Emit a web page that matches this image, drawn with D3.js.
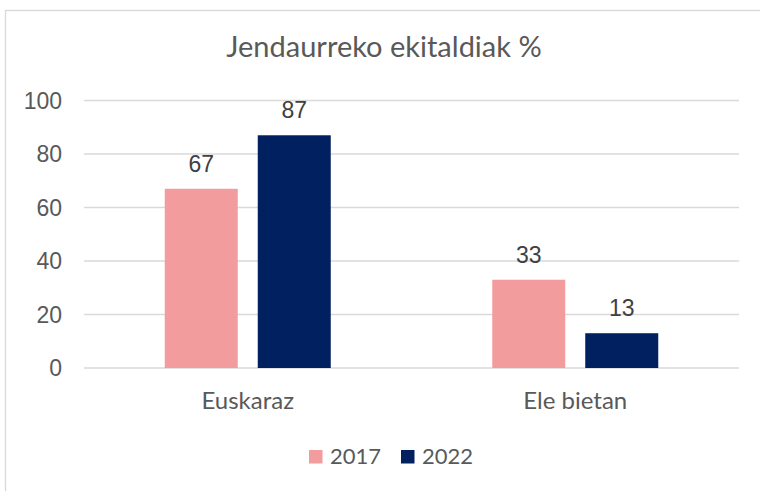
<!DOCTYPE html>
<html>
<head>
<meta charset="utf-8">
<script src="https://cdn.jsdelivr.net/npm/d3@7"></script>
<style>
  html, body { margin: 0; padding: 0; background: #fff; }
  svg { display: block; }
</style>
</head>
<body>
<div id="chart"></div>
<script>
// Jendaurreko ekitaldiak % - grouped bars
const categories = ["Euskaraz", "Ele bietan"];
const years = ["2017", "2022"];
const values2017 = [67, 33];
const values2022 = [87, 13];
const yTicks = [0, 20, 40, 60, 80, 100];

const W = 760, H = 491;
const colors = { "2017": "#F29C9E", "2022": "#002060" };
const humanist = "Lato, 'Open Sans', sans-serif";
const arial = "'Liberation Sans', Arial, sans-serif";

const svg = d3.select('#chart').append('svg').attr('width', W).attr('height', H);

// chart frame
svg.append('rect').attr('x', 5.5).attr('y', 10.5).attr('width', W + 10).attr('height', H + 10)
    .attr('fill', '#fff').attr('stroke', '#D9D9D9').attr('stroke-width', 1.3);

const plot = { left: 84, right: 739, top: 100.5, bottom: 368 };

const x0 = d3.scaleBand().domain(categories).range([plot.left, plot.right]).paddingInner(0).paddingOuter(0);
const y = d3.scaleLinear().domain([0, 100]).range([plot.bottom, plot.top]);

// gridlines
svg.append('g').selectAll('line').data(yTicks).enter().append('line')
    .attr('x1', plot.left).attr('x2', plot.right)
    .attr('y1', d => y(d)).attr('y2', d => y(d))
    .attr('stroke', '#D9D9D9').attr('stroke-width', 1.3);

// y tick labels
svg.append('g').selectAll('text').data(yTicks).enter().append('text')
    .attr('x', 62).attr('y', d => y(d)).attr('dy', '0.36em')
    .attr('text-anchor', 'end').attr('font-family', arial).attr('font-size', '23px')
    .attr('fill', '#595959').text(d => d);

const barW = 73, gap = 20;
const rows = [];
categories.forEach((c, i) => {
    rows.push({ cat: c, year: "2017", v: values2017[i], off: -(gap / 2 + barW) });
    rows.push({ cat: c, year: "2022", v: values2022[i], off: gap / 2 });
});
const cx = c => x0(c) + x0.bandwidth() / 2;

svg.append('g').selectAll('rect').data(rows).enter().append('rect')
    .attr('x', d => cx(d.cat) + d.off).attr('width', barW)
    .attr('y', d => y(d.v)).attr('height', d => y(0) - y(d.v))
    .attr('fill', d => colors[d.year]);

// data labels
svg.append('g').selectAll('text').data(rows).enter().append('text')
    .attr('x', d => cx(d.cat) + d.off + barW / 2).attr('y', d => y(d.v) - 17)
    .attr('text-anchor', 'middle').attr('font-family', arial).attr('font-size', '23px')
    .attr('fill', '#404040').text(d => d.v);

// category labels
svg.append('g').selectAll('text').data(categories).enter().append('text')
    .attr('x', d => cx(d)).attr('y', 409)
    .attr('text-anchor', 'middle').attr('font-family', humanist).attr('font-size', '24px')
    .attr('fill', '#595959').text(d => d);

// title
svg.append('text').attr('x', 384).attr('y', 57).attr('text-anchor', 'middle')
    .attr('font-family', humanist).attr('font-size', '29px').attr('fill', '#595959')
    .text('Jendaurreko ekitaldiak %');

// legend
const legendItems = [{ y: "2017", x: 309 }, { y: "2022", x: 401 }];
const lg = svg.append('g');
lg.selectAll('rect').data(legendItems).enter().append('rect')
    .attr('x', d => d.x).attr('y', 450).attr('width', 13.5).attr('height', 13.5)
    .attr('fill', d => colors[d.y]);
lg.selectAll('text').data(legendItems).enter().append('text')
    .attr('x', d => d.x + 21).attr('y', 463.5)
    .attr('font-family', humanist).attr('font-size', '22px').attr('fill', '#595959')
    .text(d => d.y);
</script>
</body>
</html>
